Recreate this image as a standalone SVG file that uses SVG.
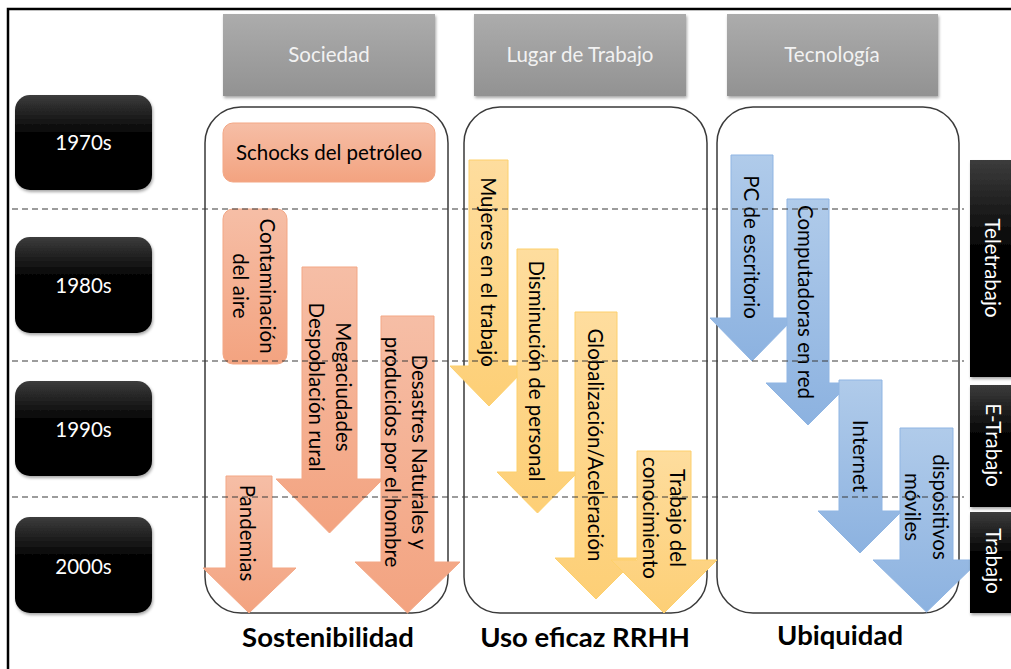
<svg xmlns="http://www.w3.org/2000/svg" width="1011" height="669" viewBox="0 0 1011 669">
<defs>
<linearGradient id="gGray" x1="0" y1="0" x2="0" y2="1"><stop offset="0" stop-color="#acacac"/><stop offset="1" stop-color="#929292"/></linearGradient>
<linearGradient id="gBlack" x1="0" y1="0" x2="0" y2="1"><stop offset="0" stop-color="#3c3c3c"/><stop offset="0.4" stop-color="#050505"/><stop offset="1" stop-color="#000"/></linearGradient>
<linearGradient id="gSal" x1="0" y1="0" x2="0" y2="1"><stop offset="0" stop-color="#f6bea6"/><stop offset="1" stop-color="#f3a380"/></linearGradient>
<linearGradient id="gYel" x1="0" y1="0" x2="0" y2="1"><stop offset="0" stop-color="#fedd9e"/><stop offset="1" stop-color="#fdcf76"/></linearGradient>
<linearGradient id="gBlu" x1="0" y1="0" x2="0" y2="1"><stop offset="0" stop-color="#b0cbea"/><stop offset="1" stop-color="#8cb2e0"/></linearGradient>
<filter id="sh" x="-10%" y="-10%" width="130%" height="130%"><feDropShadow dx="1" dy="2" stdDeviation="1.5" flood-color="#000" flood-opacity="0.35"/></filter>
</defs>
<style>
text{font-family:Lato,"Liberation Sans",sans-serif;font-size:20.5px;fill:#000}
.wt{fill:#fff}
.hd{fill:#f2f2f2}
.bold{font-weight:bold;font-size:27.5px;fill:#000}
.cont{fill:none;stroke:#3a3a3a;stroke-width:1.5}
.sal{fill:url(#gSal);stroke:#f3a785;stroke-width:1}
.yel{fill:url(#gYel);stroke:#fdd06c;stroke-width:1}
.blu{fill:url(#gBlu);stroke:#8fb5e3;stroke-width:1}
.dash{stroke:#3a3a3a;stroke-width:1.2;stroke-dasharray:6 4;fill:none}
</style>
<rect x="0" y="0" width="1011" height="669" fill="#fff"/>
<rect x="8" y="9" width="1010" height="670" fill="none" stroke="#000" stroke-width="2.5"/>

<g id="header-sociedad"><rect x="223" y="14" width="212" height="82" fill="url(#gGray)" filter="url(#sh)"/><text class="hd" x="329" y="62" text-anchor="middle">Sociedad</text></g>
<g id="header-lugar"><rect x="474" y="14" width="212" height="82" fill="url(#gGray)" filter="url(#sh)"/><text class="hd" x="580" y="62" text-anchor="middle">Lugar de Trabajo</text></g>
<g id="header-tecnologia"><rect x="727" y="14" width="211" height="82" fill="url(#gGray)" filter="url(#sh)"/><text class="hd" x="832" y="62" text-anchor="middle">Tecnología</text></g>

<g id="d1970"><rect x="15" y="95" width="137" height="95" rx="15" fill="url(#gBlack)" filter="url(#sh)"/><text class="wt" x="83.5" y="150" text-anchor="middle">1970s</text></g>
<g id="d1980"><rect x="15" y="237" width="137" height="96" rx="15" fill="url(#gBlack)" filter="url(#sh)"/><text class="wt" x="83.5" y="293" text-anchor="middle">1980s</text></g>
<g id="d1990"><rect x="15" y="381" width="137" height="95" rx="15" fill="url(#gBlack)" filter="url(#sh)"/><text class="wt" x="83.5" y="437" text-anchor="middle">1990s</text></g>
<g id="d2000"><rect x="15" y="517" width="137" height="96" rx="15" fill="url(#gBlack)" filter="url(#sh)"/><text class="wt" x="83.5" y="574" text-anchor="middle">2000s</text></g>

<g id="containers">
<rect class="cont" x="205" y="107" width="243" height="506" rx="36"/>
<rect class="cont" x="464" y="107" width="243" height="506" rx="36"/>
<rect class="cont" x="717" y="107" width="242" height="506" rx="36"/>
</g>

<g id="sociedad-items">
<g id="schocks"><rect class="sal" x="223" y="123" width="212" height="59" rx="10"/><text x="329" y="160" text-anchor="middle">Schocks del petróleo</text></g>
<g id="contaminacion"><rect class="sal" x="223" y="209" width="64" height="155" rx="10"/>
<text transform="translate(260,286) rotate(90)" text-anchor="middle">Contaminación</text>
<text transform="translate(233,286) rotate(90)" text-anchor="middle">del aire</text></g>
<g id="megaciudades"><path class="sal" d="M302,267 H357 V479 H383 L329.5,533 L276,479 H302 Z"/>
<text transform="translate(336,387) rotate(90)" text-anchor="middle">Megaciudades</text>
<text transform="translate(309,387) rotate(90)" text-anchor="middle">Despoblación rural</text></g>
<g id="desastres"><path class="sal" d="M381,316 H434 V562 H460 L407.5,613 L355,562 H381 Z"/>
<text transform="translate(412,452) rotate(90)" text-anchor="middle">Desastres Naturales y</text>
<text transform="translate(385,452) rotate(90)" text-anchor="middle">producidos por el hombre</text></g>
<g id="pandemias"><path class="sal" d="M226,476 H272 V568 H296 L249,613 L203,568 H226 Z"/>
<text transform="translate(240,533) rotate(90)" text-anchor="middle">Pandemias</text></g>
</g>

<g id="lugar-items">
<g id="mujeres"><path class="yel" d="M469,160 H508 V366 H528 L489,406 L450,366 H469 Z"/>
<text transform="translate(481,272) rotate(90)" text-anchor="middle">Mujeres en el trabajo</text></g>
<g id="disminucion"><path class="yel" d="M517,249 H558 V472 H578 L537.5,513 L497,472 H517 Z"/>
<text transform="translate(529,371) rotate(90)" text-anchor="middle">Disminución de personal</text></g>
<g id="globalizacion"><path class="yel" d="M575,312 H617 V558 H637 L596,599 L555,558 H575 Z"/>
<text transform="translate(588,445) rotate(90)" text-anchor="middle">Globalización/Aceleración</text></g>
<g id="trabajo-conocimiento"><path class="yel" d="M637,451 H691 V560 H717 L664,613 L611,560 H637 Z"/>
<text transform="translate(670,518) rotate(90)" text-anchor="middle">Trabajo del</text>
<text transform="translate(643,518) rotate(90)" text-anchor="middle">conocimiento</text></g>
</g>

<g id="tecnologia-items">
<g id="pc"><path class="blu" d="M731,155 H773 V318 H794 L752,361 L710,318 H731 Z"/>
<text transform="translate(744,247) rotate(90)" text-anchor="middle">PC de escritorio</text></g>
<g id="computadoras"><path class="blu" d="M787,199 H829 V383 H850 L808,425 L766,383 H787 Z"/>
<text transform="translate(798,302) rotate(90)" text-anchor="middle">Computadoras en red</text></g>
<g id="internet"><path class="blu" d="M839,380 H882 V511 H902 L860,553 L818,511 H839 Z"/>
<text transform="translate(853,456) rotate(90)" text-anchor="middle">Internet</text></g>
<g id="dispositivos"><path class="blu" d="M900,428 H953 V560 H980 L926.5,612 L873,560 H900 Z"/>
<text transform="translate(933,507) rotate(90)" text-anchor="middle">dispositivos</text>
<text transform="translate(905,507) rotate(90)" text-anchor="middle">móviles</text></g>
</g>

<g id="connectors">
<line class="dash" x1="12" y1="209" x2="964" y2="209"/>
<line class="dash" x1="12" y1="361" x2="964" y2="361"/>
<line class="dash" x1="12" y1="497" x2="964" y2="497"/>
</g>

<g id="teletrabajo"><rect x="970" y="160" width="50" height="217" fill="url(#gBlack)" filter="url(#sh)"/><text class="wt" transform="translate(985,268) rotate(90)" text-anchor="middle">Teletrabajo</text></g>
<g id="etrabajo"><rect x="970" y="385" width="50" height="122" fill="url(#gBlack)" filter="url(#sh)"/><text class="wt" transform="translate(986,445) rotate(90)" text-anchor="middle">E-Trabajo</text></g>
<g id="trabajo"><rect x="970" y="512" width="50" height="101" fill="url(#gBlack)" filter="url(#sh)"/><text class="wt" transform="translate(986,561) rotate(90)" text-anchor="middle">Trabajo</text></g>

<g id="labels">
<text class="bold" x="328" y="647" text-anchor="middle">Sostenibilidad</text>
<text class="bold" x="585" y="647" text-anchor="middle">Uso eficaz RRHH</text>
<text class="bold" x="840" y="645" text-anchor="middle">Ubiquidad</text>
</g>
</svg>
